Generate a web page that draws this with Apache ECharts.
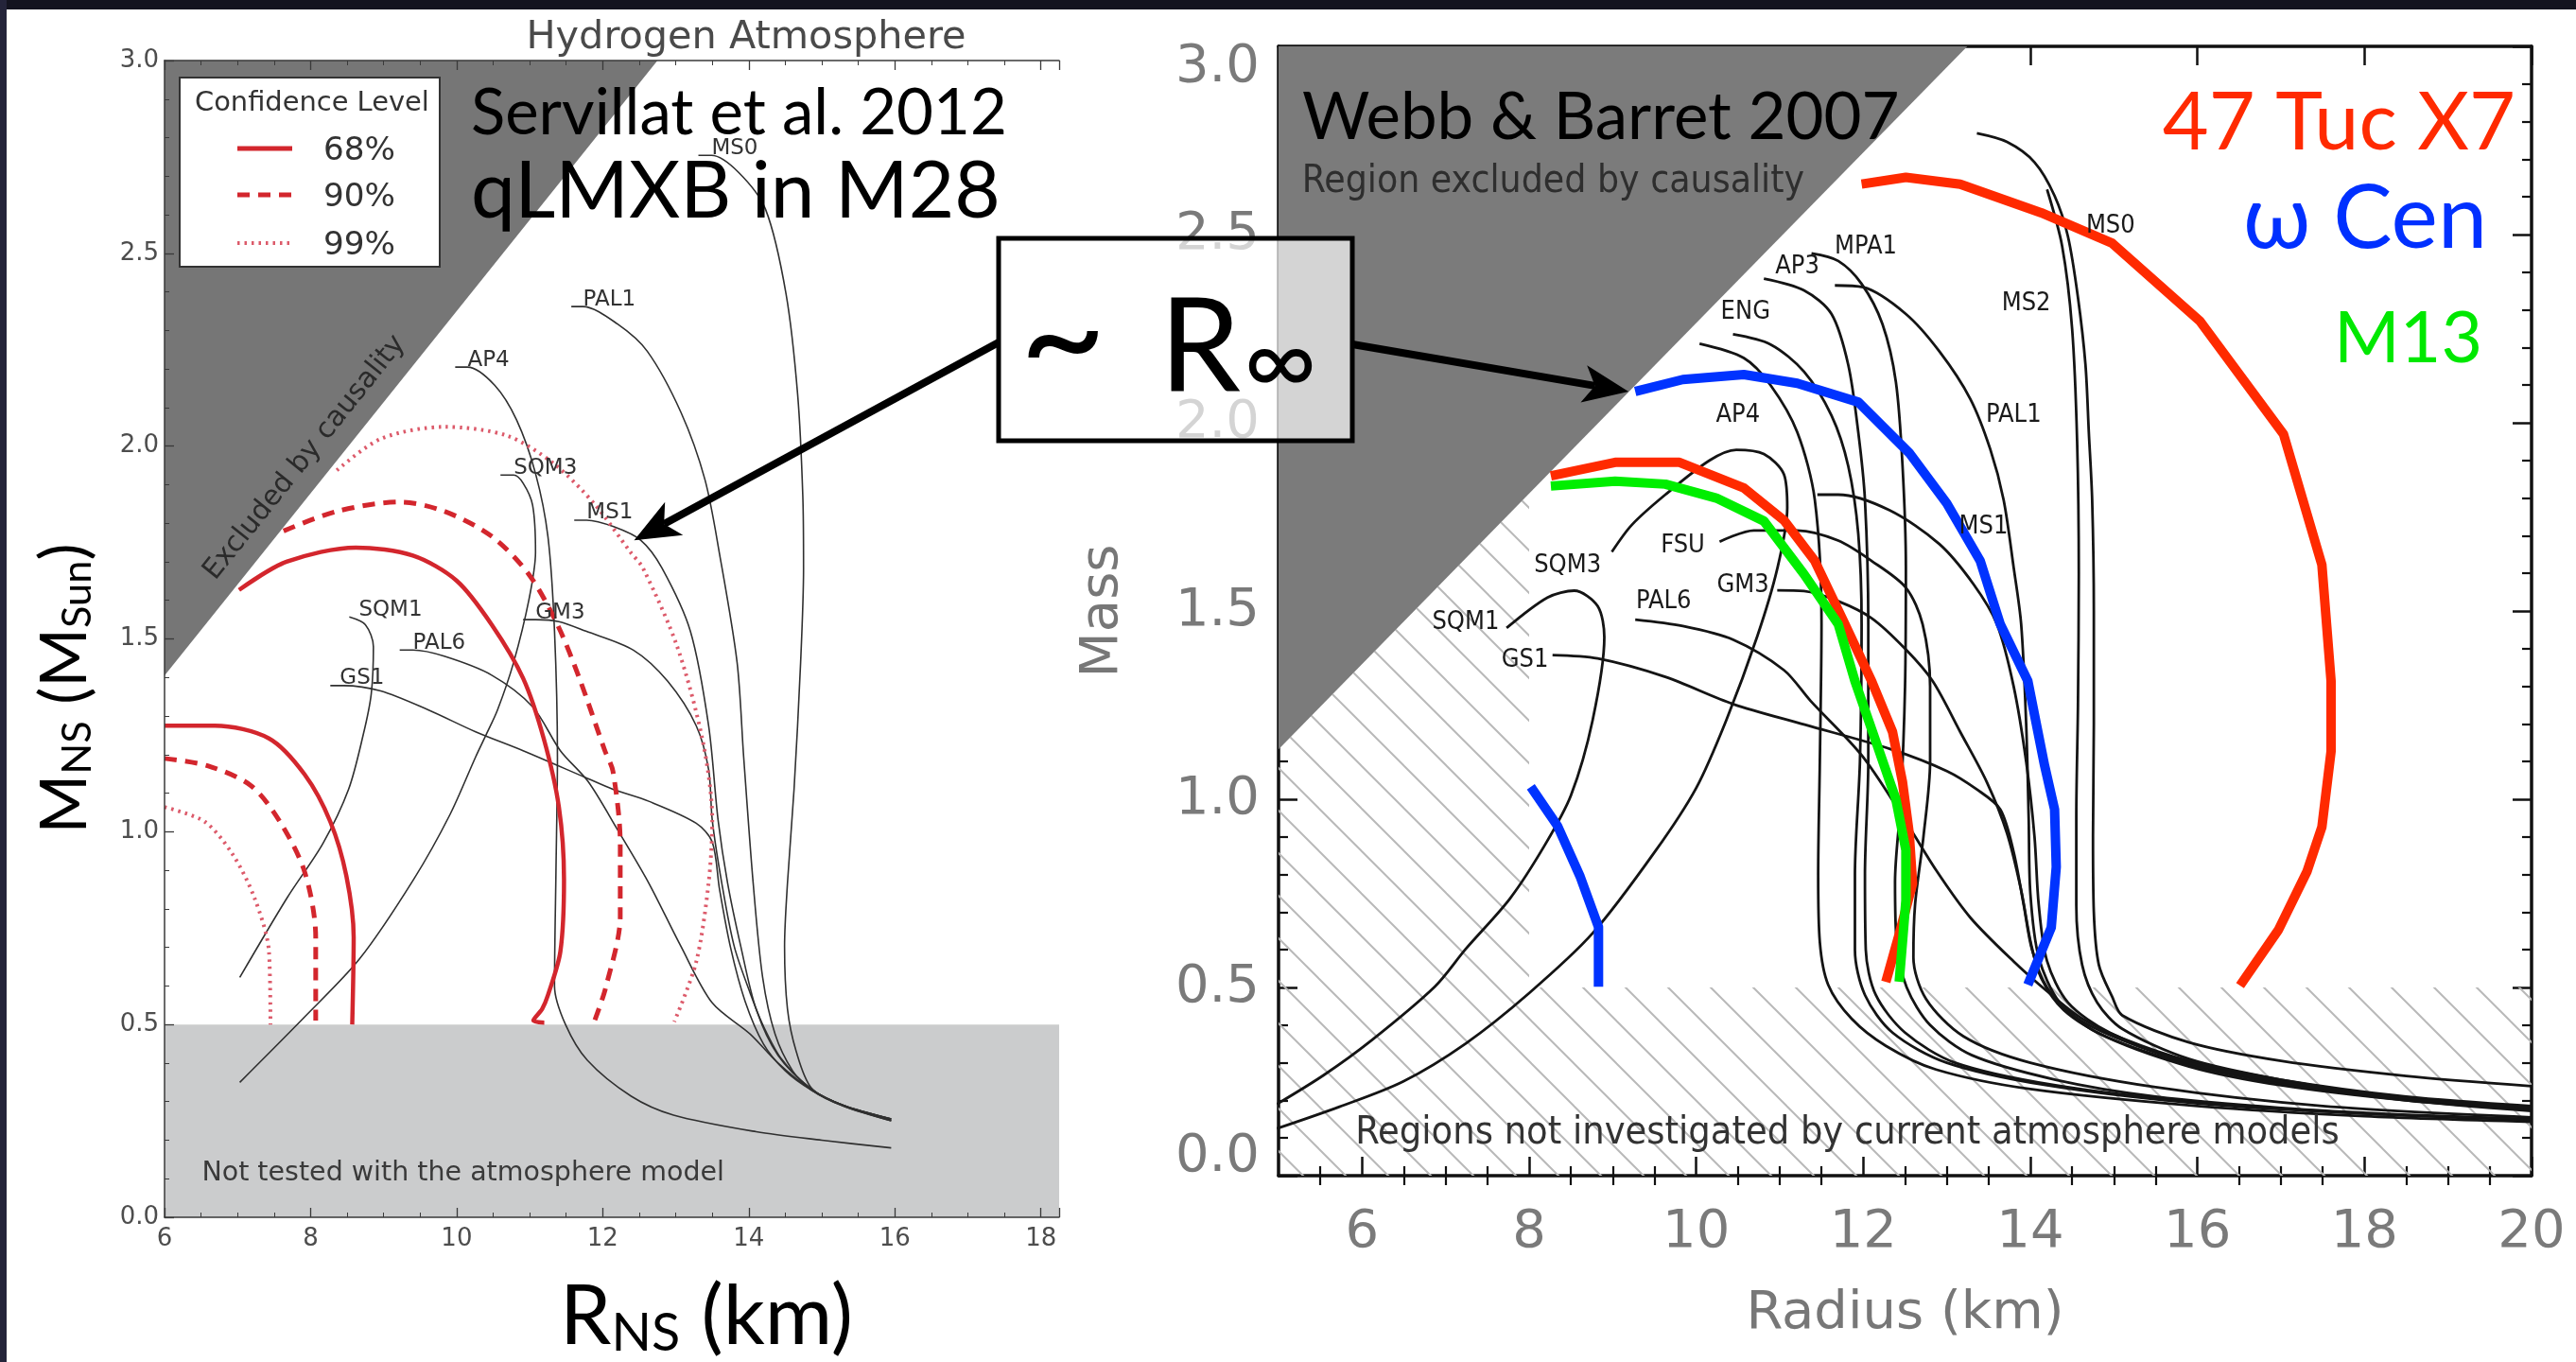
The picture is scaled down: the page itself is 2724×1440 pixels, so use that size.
<!DOCTYPE html>
<html><head><meta charset="utf-8">
<script src="https://cdn.jsdelivr.net/npm/echarts@6/dist/echarts.min.js"></script>
<style>html,body{margin:0;padding:0;background:#fff;overflow:hidden}#c{width:2724px;height:1440px}</style>
</head><body><div id="c"></div>
<script>
// ===================== DATA =====================
// ---- Left panel (Servillat et al. 2012): x = R_NS (km), y = M_NS (Msun)
const leftCausal = [[6,1.405],[6,3],[12.75,3]];
const leftBand = [[6,0],[18.25,0],[18.25,0.5],[6,0.5]];
const leftEosNames = ['MS0','PAL1','AP4','SQM3','MS1','SQM1','GM3','PAL6','GS1'];
const leftEosLabelPos = [[13.49,2.754],[11.73,2.362],[10.15,2.205],[10.78,1.925],[11.78,1.808],[8.66,1.557],[11.08,1.55],[9.4,1.471],[8.4,1.379]];
const lMS0 = [[13.31,2.754],[13.49,2.754],[13.86,2.71],[14.23,2.614],[14.51,2.395],[14.67,2.132],[14.74,1.87],[14.75,1.684],[14.71,1.439],[14.62,1.11],[14.53,0.867],[14.49,0.703],[14.53,0.54],[14.65,0.43],[14.86,0.335],[15.3,0.29],[15.95,0.25]];
const lPAL1 = [[11.57,2.362],[11.73,2.362],[12.2,2.317],[12.61,2.246],[13.07,2.088],[13.4,1.913],[13.6,1.72],[13.84,1.439],[13.93,1.194],[14.06,0.867],[14.19,0.622],[14.36,0.475],[14.6,0.38],[14.86,0.33],[15.3,0.288],[15.95,0.252]];
const lAP4 = [[9.98,2.205],[10.15,2.205],[10.52,2.158],[10.82,2.068],[11.08,1.929],[11.25,1.765],[11.34,1.52],[11.38,1.194],[11.36,0.9],[11.34,0.6],[11.49,0.5],[11.79,0.407],[12.39,0.314],[12.97,0.265],[14.1,0.222],[15.0,0.2],[15.95,0.18]];
const lSQM3 = [[10.6,1.925],[10.78,1.925],[10.91,1.904],[11.04,1.847],[11.08,1.725],[10.99,1.602],[10.78,1.439],[10.56,1.316],[10.4,1.25],[10.26,1.194],[9.91,1.045],[9.41,0.876],[8.67,0.67],[7.92,0.52],[7.03,0.35]];
const lMS1 = [[11.61,1.808],[11.78,1.808],[12.15,1.791],[12.52,1.756],[12.81,1.684],[13.2,1.52],[13.45,1.275],[13.58,1.03],[13.71,0.867],[13.89,0.703],[14.1,0.54],[14.4,0.42],[14.86,0.332],[15.3,0.288],[15.95,0.25]];
const lSQM1 = [[8.53,1.557],[8.75,1.537],[8.86,1.48],[8.83,1.357],[8.72,1.251],[8.52,1.11],[8.17,0.97],[7.68,0.829],[7.03,0.622]];
const lGM3 = [[10.91,1.55],[11.08,1.55],[11.4,1.545],[11.77,1.52],[12.42,1.471],[12.89,1.39],[13.28,1.275],[13.45,1.161],[13.5,1.03],[13.63,0.867],[13.8,0.703],[14.02,0.581],[14.19,0.5],[14.45,0.41],[14.86,0.332],[15.3,0.29],[15.95,0.255]];
const lPAL6 = [[9.22,1.471],[9.4,1.471],[9.83,1.455],[10.48,1.406],[11.04,1.324],[11.42,1.21],[11.8,1.13],[12.2,1.006],[12.63,0.867],[13.07,0.703],[13.5,0.556],[14.02,0.475],[14.4,0.4],[14.86,0.33],[15.3,0.29],[15.95,0.255]];
const lGS1 = [[8.27,1.379],[8.45,1.379],[8.96,1.365],[9.61,1.316],[10.26,1.259],[10.91,1.21],[11.77,1.14],[12.14,1.11],[12.63,1.079],[13.28,1.022],[13.5,0.973],[13.6,0.85],[13.75,0.7],[13.95,0.56],[14.2,0.45],[14.5,0.38],[14.86,0.33],[15.3,0.29],[15.95,0.255]];
const leftEos = [lMS0,lPAL1,lAP4,lSQM3,lMS1,lSQM1,lGM3,lPAL6,lGS1];
// confidence contours (68 / 90 / 99 %)
const c68a = [[7.02,1.627],[7.67,1.70],[8.62,1.737],[9.40,1.716],[10.0,1.651],[10.48,1.537],[10.91,1.398],[11.19,1.243],[11.40,1.064],[11.47,0.876],[11.42,0.689],[11.25,0.576],[11.17,0.54],[11.05,0.51],[11.2,0.505]];
const c68b = [[6.0,1.275],[6.69,1.275],[7.43,1.242],[7.92,1.148],[8.27,1.026],[8.49,0.885],[8.59,0.726],[8.57,0.50]];
const c90a = [[7.63,1.78],[8.36,1.831],[9.22,1.855],[9.83,1.831],[10.48,1.766],[10.99,1.667],[11.38,1.537],[11.68,1.398],[12.03,1.21],[12.14,1.157],[12.24,0.97],[12.24,0.78],[12.04,0.595],[11.87,0.50]];
const c90b = [[6.0,1.19],[6.59,1.171],[7.18,1.12],[7.58,1.026],[7.92,0.895],[8.07,0.726],[8.07,0.51]];
const c99a = [[8.36,1.937],[8.96,2.019],[9.83,2.05],[10.69,2.027],[11.34,1.953],[11.90,1.847],[12.38,1.725],[12.55,1.684],[13.02,1.48],[13.37,1.235],[13.5,1.03],[13.45,0.867],[13.28,0.662],[12.98,0.507]];
const c99b = [[6.0,1.064],[6.55,1.026],[6.93,0.942],[7.23,0.829],[7.43,0.689],[7.45,0.50]];
const legendLevels = ['68%','90%','99%'];

// ---- Right panel (Webb & Barret 2007): x = Radius (km), y = Mass
const rightCausal = [[5,1.1325],[5,3],[13.245,3]];
const rightHatch = [[5,0],[20,0],[20,0.5],[8,0.5],[8,1.812],[5,1.1325]];
const rMS0 = [[13.36,2.769],[13.72,2.746],[14.05,2.692],[14.29,2.603],[14.45,2.495],[14.57,2.333],[14.66,2.154],[14.7,1.975],[14.74,1.795],[14.76,1.5],[14.76,1.2],[14.75,0.9],[14.76,0.7],[14.82,0.56],[14.98,0.475],[15.1,0.426],[15.9,0.354],[17,0.305],[18.5,0.265],[20,0.238]];
const rMS2 = [[14.2,2.62],[14.38,2.47],[14.5,2.25],[14.56,1.95],[14.58,1.6],[14.57,1.25],[14.55,0.95],[14.55,0.72],[14.62,0.56],[14.8,0.46],[15.1,0.39],[15.9,0.31],[17,0.255],[18.5,0.205],[20,0.178]];
const rMPA1 = [[11.38,2.45],[11.7,2.43],[11.98,2.369],[12.23,2.262],[12.39,2.109],[12.47,1.885],[12.51,1.616],[12.5,1.3],[12.45,1.0],[12.38,0.78],[12.4,0.62],[12.52,0.5],[12.8,0.4],[13.3,0.32],[14.3,0.255],[15.5,0.21],[17,0.18],[18.5,0.162],[20,0.15]];
const rAP3 = [[10.81,2.383],[11.29,2.352],[11.62,2.289],[11.82,2.154],[11.94,1.975],[12.02,1.795],[12.06,1.465],[12.06,1.1],[12.02,0.8],[12.03,0.6],[12.15,0.48],[12.5,0.38],[13.1,0.3],[14.3,0.24],[16,0.195],[18,0.165],[20,0.148]];
const rPAL1 = [[11.66,2.365],[12.0,2.36],[12.51,2.289],[12.91,2.19],[13.28,2.064],[13.52,1.93],[13.68,1.795],[13.8,1.616],[13.89,1.465],[13.95,1.2],[13.98,0.95],[14.0,0.75],[14.1,0.58],[14.35,0.46],[14.8,0.38],[15.9,0.29],[17,0.24],[18.5,0.2],[20,0.175]];
const rENG = [[10.44,2.235],[10.89,2.208],[11.29,2.136],[11.62,2.019],[11.82,1.885],[11.94,1.705],[11.98,1.465],[11.96,1.1],[11.9,0.8],[11.9,0.6],[12.02,0.48],[12.35,0.38],[13.0,0.3],[14.2,0.24],[16,0.192],[18,0.165],[20,0.15]];
const rAP4 = [[10.04,2.21],[10.57,2.172],[10.89,2.1],[11.21,1.975],[11.42,1.795],[11.5,1.465],[11.48,1.1],[11.46,0.8],[11.48,0.62],[11.58,0.507],[11.86,0.417],[12.27,0.345],[12.87,0.282],[14,0.23],[16,0.185],[18,0.158],[20,0.143]];
const rMS1 = [[11.45,1.809],[11.7,1.809],[12.31,1.768],[12.91,1.678],[13.32,1.571],[13.6,1.465],[13.8,1.3],[13.95,1.1],[14.05,0.9],[14.1,0.72],[14.2,0.57],[14.45,0.46],[14.95,0.38],[15.9,0.3],[17,0.25],[18.5,0.205],[20,0.178]];
const rGM3 = [[10.97,1.555],[11.29,1.553],[11.7,1.526],[12.1,1.481],[12.5,1.4],[12.83,1.314],[13.16,1.179],[13.48,1.045],[13.72,0.91],[13.89,0.758],[14.01,0.614],[14.13,0.525],[14.4,0.44],[14.9,0.37],[15.9,0.295],[17,0.245],[18.5,0.2],[20,0.172]];
const rFSU = [[10.28,1.684],[10.69,1.714],[11.21,1.714],[11.7,1.687],[12.1,1.633],[12.51,1.562],[12.71,1.465],[12.8,1.3],[12.8,1.1],[12.72,0.9],[12.62,0.72],[12.6,0.58],[12.75,0.47],[13.2,0.37],[14.0,0.3],[15.5,0.235],[17.5,0.185],[20,0.155]];
const rPAL6 = [[9.27,1.477],[9.84,1.46],[10.44,1.424],[11.05,1.343],[11.37,1.261],[11.98,1.117],[12.47,0.955],[12.87,0.812],[13.28,0.686],[13.8,0.569],[14.21,0.488],[14.6,0.42],[15.1,0.365],[15.9,0.305],[17,0.255],[18.5,0.21],[20,0.185]];
const rGS1 = [[8.28,1.383],[8.82,1.374],[9.63,1.325],[10.44,1.253],[11.3,1.198],[12.33,1.133],[13.0,1.075],[13.36,1.026],[13.64,0.973],[13.8,0.86],[13.92,0.72],[14.02,0.6],[14.2,0.5],[14.55,0.42],[15.1,0.36],[15.9,0.3],[17,0.25],[18.5,0.205],[20,0.18]];
const rSQM1 = [[4.98,0.19],[5.54,0.267],[6.11,0.359],[6.87,0.502],[7.24,0.602],[7.77,0.736],[8.19,0.879],[8.5,1.01],[8.76,1.21],[8.9,1.43],[8.82,1.513],[8.54,1.554],[8.22,1.536],[7.73,1.455]];
const rSQM3 = [[4.98,0.125],[5.73,0.183],[6.49,0.25],[7.24,0.351],[8.0,0.485],[8.76,0.644],[9.51,0.862],[10.0,1.03],[10.36,1.21],[10.73,1.432],[10.97,1.612],[11.09,1.774],[11.05,1.863],[10.81,1.917],[10.48,1.928],[10.16,1.9],[9.63,1.809],[9.23,1.729],[8.99,1.657]];
const rightEos = [rMS0,rMS2,rMPA1,rAP3,rPAL1,rENG,rAP4,rMS1,rGM3,rFSU,rPAL6,rGS1,rSQM1,rSQM3];
const rightEosNames = ['MS0','MS2','MPA1','AP3','ENG','AP4','PAL1','MS1','FSU','GM3','PAL6','SQM3','SQM1','GS1'];
const rightEosLabelPos = [[14.96,2.522],[13.95,2.316],[12.03,2.468],[11.21,2.415],[10.59,2.293],[10.5,2.021],[13.8,2.019],[13.44,1.724],[9.84,1.673],[10.56,1.569],[9.61,1.524],[8.46,1.621],[7.24,1.47],[7.95,1.37]];
// hand-drawn constraints
const tucBig = [[11.98,2.634],[12.51,2.652],[13.16,2.634],[14.13,2.558],[14.98,2.477],[16.03,2.27],[16.57,2.108],[17.03,1.97],[17.49,1.623],[17.6,1.314],[17.6,1.127],[17.49,0.926],[17.31,0.807],[16.97,0.653],[16.51,0.505]];
const tucSmall = [[8.26,1.859],[9.03,1.895],[9.8,1.895],[10.57,1.827],[11.05,1.741],[11.42,1.633],[11.78,1.465],[12.1,1.314],[12.35,1.179],[12.47,1.045],[12.55,0.91],[12.59,0.776],[12.43,0.641],[12.27,0.515]];
const omegaMain = [[9.27,2.083],[9.84,2.115],[10.57,2.128],[11.21,2.105],[11.94,2.055],[12.55,1.92],[13.0,1.786],[13.4,1.633],[13.64,1.465],[13.97,1.314],[14.17,1.09],[14.29,0.973],[14.31,0.82],[14.25,0.659],[13.97,0.507]];
const omegaLeft = [[8.02,1.033],[8.34,0.929],[8.61,0.795],[8.83,0.661],[8.83,0.502]];
const m13 = [[8.26,1.832],[9.03,1.845],[9.63,1.837],[10.24,1.8],[10.81,1.739],[11.29,1.598],[11.7,1.465],[11.9,1.314],[12.18,1.135],[12.39,1.0],[12.51,0.865],[12.51,0.731],[12.43,0.515]];
// ticks
const rMajorX = [6,8,10,12,14,16,18,20];
const rMinorX = [5.5,6.5,7,7.5,8.5,9,9.5,10.5,11,11.5,12.5,13,13.5,14.5,15,15.5,16.5,17,17.5,18.5,19,19.5];
// arrow targets (data coords)
const arrowTipLeft = [12.43,1.756];
const arrowTipRight = [9.19,2.083];

// ===================== RENDER =====================
const MPL = "'DejaVu Sans', sans-serif";
const IDL = "'DejaVu Sans Condensed', 'DejaVu Sans', sans-serif";
const SL = "Lato, 'Open Sans', sans-serif";
const mctx = document.createElement('canvas').getContext('2d');
function measure(t, s, f){ mctx.font = s + 'px ' + f; return mctx.measureText(t).width; }
function fit(t, w, f){ return 100 * w / measure(t, 100, f); }
function baseOff(s, f){ mctx.font = s + 'px ' + f; mctx.textBaseline = 'middle'; const m = mctx.measureText('H'); mctx.textBaseline = 'alphabetic'; return m.actualBoundingBoxDescent; }

const chart = echarts.init(document.getElementById('c'), null, {width:2724, height:1440});

// hatch pattern
const pc = document.createElement('canvas'); pc.width = 45; pc.height = 45;
const pg = pc.getContext('2d'); pg.strokeStyle = '#b9b9b9'; pg.lineWidth = 2;
for (const k of [-45,0,45]) { pg.beginPath(); pg.moveTo(k-3,-3); pg.lineTo(k+48,48); pg.stroke(); }

function poly(pts, xi, yi, style, z){
  return {type:'custom', xAxisIndex:xi, yAxisIndex:yi, z, silent:true, clip:true, animation:false, data:pts,
    renderItem(params, api){ if (params.dataIndex !== 0) return null;
      return {type:'polygon', shape:{points: pts.map(p => api.coord(p))}, style}; }};
}
function line(pts, xi, yi, color, width, type, smooth, z){
  return {type:'line', xAxisIndex:xi, yAxisIndex:yi, data:pts, symbol:'none', showSymbol:false, smooth, z, silent:true, animation:false,
    lineStyle:{color, width, type, cap:'butt', join:'round'}};
}
function texts(items, xi, yi, z){
  return {type:'custom', xAxisIndex:xi, yAxisIndex:yi, z, silent:true, clip:false, animation:false, data: items.map(i => i.pos),
    renderItem(params, api){ const it = items[params.dataIndex]; const c = api.coord(it.pos); let rot = 0;
      if (it.along){ const a = api.coord(it.along[0]), b = api.coord(it.along[1]); rot = Math.atan2(-(b[1]-a[1]), b[0]-a[0]); }
      return {type:'text', x:c[0]+(it.dx||0), y:c[1]+(it.dy||0), rotation:rot,
        style:{text:it.text, font:it.font, fill:it.color, align:it.align, verticalAlign:it.valign, textAlign:it.align, textVerticalAlign:it.valign}}; }};
}

const series = [];
// left panel
series.push(poly(leftBand, 0, 0, {fill:'#cbcccd'}, 1));
series.push(poly(leftCausal, 0, 0, {fill:'#767676'}, 1));
leftEos.forEach(p => series.push(line(p, 0, 0, '#303030', 1.6, 'solid', 0.3, 3)));
series.push(line(c68a, 0, 0, '#d3262d', 4.5, 'solid', 0.3, 4));
series.push(line(c68b, 0, 0, '#d3262d', 4.5, 'solid', 0.3, 4));
series.push(line(c90a, 0, 0, '#d3262d', 5, [13,9], 0.3, 4));
series.push(line(c90b, 0, 0, '#d3262d', 5, [13,9], 0.3, 4));
series.push(line(c99a, 0, 0, '#dc5a6a', 4, [2.5,5], 0.3, 4));
series.push(line(c99b, 0, 0, '#dc5a6a', 4, [2.5,5], 0.3, 4));
const leftLabelItems = leftEosNames.map((n,i) => ({text:n, pos:leftEosLabelPos[i], font:'23px '+MPL, color:'#333', align:'left', valign:'bottom', dy:4}));
const ntSize = fit('Not tested with the atmosphere model', 553, MPL);
leftLabelItems.push({text:'Not tested with the atmosphere model', pos:[6.51,0.115], font:ntSize.toFixed(1)+'px '+MPL, color:'#3a3a3a', align:'left', valign:'middle'});
const exSize = fit('Excluded by causality', 322, MPL);
leftLabelItems.push({text:'Excluded by causality', pos:[7.92,1.97], along:[[6,1.405],[12.75,3]], font:exSize.toFixed(1)+'px '+MPL, color:'#2a2a2a', align:'center', valign:'middle'});
series.push(texts(leftLabelItems, 0, 0, 6));

// right panel
series.push(poly(rightHatch, 2, 1, {fill:{image:pc, repeat:'repeat'}}, 1));
series.push(poly(rightCausal, 2, 1, {fill:'#7b7b7b'}, 1));
rightEos.forEach(p => series.push(line(p, 2, 1, '#141414', 2.8, 'solid', 0.3, 3)));
series.push(line(tucBig, 2, 1, '#ff2a00', 10, 'solid', false, 5));
series.push(line(tucSmall, 2, 1, '#ff2a00', 10, 'solid', false, 5));
series.push(line(m13, 2, 1, '#00ee00', 10, 'solid', false, 6));
series.push(line(omegaMain, 2, 1, '#0033ff', 10, 'solid', false, 6));
series.push(line(omegaLeft, 2, 1, '#0033ff', 10, 'solid', false, 6));
const rightLabelItems = rightEosNames.map((n,i) => ({text:n, pos:rightEosLabelPos[i], font:'27px '+IDL, color:'#1a1a1a', align:'center', valign:'middle'}));
const reSize = fit('Region excluded by causality', 531, IDL);
rightLabelItems.push({text:'Region excluded by causality', pos:[5.28,2.64], font:reSize.toFixed(1)+'px '+IDL, color:'#2e2e2e', align:'left', valign:'middle'});
const rnSize = fit('Regions not investigated by current atmosphere models', 1040, IDL);
rightLabelItems.push({text:'Regions not investigated by current atmosphere models', pos:[5.92,0.113], font:rnSize.toFixed(1)+'px '+IDL, color:'#333', align:'left', valign:'middle'});
series.push(texts(rightLabelItems, 2, 1, 7));

const axL = {color:'#3a3a3a', width:1.5};
const lLab = {fontSize:26, color:'#4d4d4d', fontFamily:MPL};
const rAx = {color:'#111', width:3.5};
const rLab = {fontSize:56, color:'#7a7a7a', fontFamily:MPL};
const off = {show:false};
const xAxis = [
  {gridIndex:0, type:'value', min:6, max:18.25, interval:2, position:'bottom', z:20,
   axisLine:{show:true, onZero:false, lineStyle:axL}, axisTick:{show:true, inside:true, length:10, lineStyle:{color:'#3a3a3a', width:1.3}},
   minorTick:{show:true, splitNumber:4, length:5, lineStyle:{color:'#3a3a3a', width:1}}, splitLine:off, minorSplitLine:off,
   axisLabel:Object.assign({margin:10, formatter:v => (Math.abs(v-Math.round(v))<1e-6 && Math.round(v)%2===0) ? String(Math.round(v)) : ''}, lLab)},
  {gridIndex:0, type:'value', min:6, max:18.25, interval:2, position:'top', z:20,
   axisLine:{show:true, onZero:false, lineStyle:axL}, axisTick:{show:true, inside:true, length:10, lineStyle:{color:'#3a3a3a', width:1.3}},
   minorTick:{show:true, splitNumber:4, length:5, lineStyle:{color:'#3a3a3a', width:1}}, splitLine:off, axisLabel:off},
  {gridIndex:1, type:'value', min:5, max:20, position:'bottom', z:0,
   axisLine:{show:true, onZero:false, lineStyle:rAx}, axisTick:{show:true, inside:true, length:20, customValues:rMajorX, lineStyle:{color:'#111', width:2.5}},
   splitLine:off, axisLabel:Object.assign({customValues:rMajorX, margin:32}, rLab),
   name:'Radius (km)', nameLocation:'middle', nameGap:118, nameTextStyle:{fontSize:56, color:'#777', fontFamily:MPL}},
  {gridIndex:1, type:'value', min:5, max:20, position:'bottom', z:0,
   axisLine:off, axisTick:{show:true, inside:true, length:10, customValues:rMinorX, lineStyle:{color:'#111', width:2.2}}, splitLine:off, axisLabel:off},
  {gridIndex:1, type:'value', min:5, max:20, position:'top', z:0,
   axisLine:{show:true, onZero:false, lineStyle:rAx}, axisTick:{show:true, inside:true, length:20, customValues:rMajorX, lineStyle:{color:'#111', width:2.5}}, splitLine:off, axisLabel:off},
  {gridIndex:1, type:'value', min:5, max:20, position:'top', z:0,
   axisLine:off, axisTick:{show:true, inside:true, length:10, customValues:rMinorX, lineStyle:{color:'#111', width:2.2}}, splitLine:off, axisLabel:off}
];
const yAxis = [
  {gridIndex:0, type:'value', min:0, max:3, interval:0.5, position:'left', z:20,
   axisLine:{show:true, onZero:false, lineStyle:axL}, axisTick:{show:true, inside:true, length:10, lineStyle:{color:'#3a3a3a', width:1.3}},
   minorTick:{show:true, splitNumber:5, length:5, lineStyle:{color:'#3a3a3a', width:1}}, splitLine:off,
   axisLabel:Object.assign({margin:6, formatter:v => v.toFixed(1)}, lLab)},
  {gridIndex:1, type:'value', min:0, max:3, interval:0.5, position:'left', z:0,
   axisLine:{show:true, onZero:false, lineStyle:rAx}, axisTick:{show:true, inside:true, length:20, lineStyle:{color:'#111', width:2.5}},
   minorTick:{show:true, splitNumber:5, length:10, lineStyle:{color:'#111', width:2.2}}, splitLine:off,
   axisLabel:{margin:20, formatter:v => v === 0 ? '{lo|0.0}' : (v === 3 ? '{hi|3.0}' : '{n|' + v.toFixed(1) + '}'),
     rich:{n:rLab, lo:Object.assign({padding:[0,0,40,0]}, rLab), hi:Object.assign({padding:[44,0,0,0]}, rLab)}},
   name:'Mass', nameLocation:'middle', nameGap:158, nameRotate:90, nameTextStyle:{fontSize:56, color:'#777', fontFamily:MPL}},
  {gridIndex:1, type:'value', min:0, max:3, interval:0.5, position:'right', z:0,
   axisLine:{show:true, onZero:false, lineStyle:rAx}, axisTick:{show:true, inside:true, length:20, lineStyle:{color:'#111', width:2.5}},
   minorTick:{show:true, splitNumber:5, length:10, lineStyle:{color:'#111', width:2.2}}, splitLine:off, axisLabel:off}
];

chart.setOption({
  animation:false, backgroundColor:'#ffffff',
  grid:[{left:174, top:64, width:946, height:1223, outerBoundsMode:'none', containLabel:false},
        {left:1352, top:49, width:1325, height:1194, outerBoundsMode:'none', containLabel:false}],
  xAxis, yAxis, series
});

// ---------- overlays in pixel space ----------
function tb(text, x, baseline, size, fam, color, align, extra){
  const o = baseOff(size, fam);
  return Object.assign({type:'text', x, y: baseline - o, z:100, silent:true,
    style:{text, font: size.toFixed(1)+'px '+fam, fill:color, align:align||'left', verticalAlign:'middle', textAlign:align||'left', textVerticalAlign:'middle'}}, extra||{});
}
function seq(parts, x0, baseline, fam, color, total){
  let W = 0; parts.forEach(p => W += measure(p.t, p.s, fam));
  const k = total / W; let x = x0; const els = [];
  parts.forEach(p => { const s = p.s*k; els.push(tb(p.t, x, baseline + (p.dy||0)*k, s, fam, color, 'left')); x += measure(p.t, s, fam); });
  return els;
}
function arrow(x1, y1, x2, y2){
  const dx = x2-x1, dy = y2-y1, L = Math.hypot(dx,dy), ux = dx/L, uy = dy/L, px = -uy, py = ux;
  const hl = 48, hw = 20, bx = x2-ux*hl, by = y2-uy*hl;
  return [
    {type:'line', z:95, silent:true, shape:{x1, y1, x2: bx+ux*12, y2: by+uy*12}, style:{stroke:'#000', lineWidth:8}},
    {type:'polygon', z:96, silent:true, shape:{points:[[x2,y2],[bx+px*hw,by+py*hw],[bx+ux*12,by+uy*12],[bx-px*hw,by-py*hw]]}, style:{fill:'#000'}}
  ];
}
const tipL = chart.convertToPixel({xAxisIndex:0, yAxisIndex:0}, arrowTipLeft);
const tipR = chart.convertToPixel({xAxisIndex:2, yAxisIndex:1}, arrowTipRight);

const g = [];
g.push({type:'rect', z:110, silent:true, shape:{x:0, y:0, width:2724, height:10}, style:{fill:'#13131f'}});
g.push({type:'rect', z:110, silent:true, shape:{x:0, y:0, width:7, height:1440}, style:{fill:'#24243a'}});
// left title
g.push(tb('Hydrogen Atmosphere', 789, 51, fit('Hydrogen Atmosphere', 465, MPL), MPL, '#4a4a4a', 'center'));
// legend box
g.push({type:'rect', z:60, silent:true, shape:{x:190, y:82, width:275, height:200}, style:{fill:'#fff', stroke:'#333', lineWidth:2}});
g.push(Object.assign(tb('Confidence Level', 206, 117, fit('Confidence Level', 248, MPL), MPL, '#333', 'left'), {z:61}));
const legY = [157, 206, 257];
const legStyle = [{stroke:'#d3262d', lineWidth:5}, {stroke:'#d3262d', lineWidth:5, lineDash:[13,9]}, {stroke:'#dc5a6a', lineWidth:4, lineDash:[2.5,5]}];
const pctSize = fit('68%', 76, MPL);
legendLevels.forEach((t,i) => {
  g.push({type:'line', z:61, silent:true, shape:{x1:251, y1:legY[i], x2:309, y2:legY[i]}, style:legStyle[i]});
  g.push(Object.assign(tb(t, 342, legY[i] + 0.36*pctSize, pctSize, MPL, '#333', 'left'), {z:61}));
});
// slide texts
g.push(tb('Servillat et al. 2012', 498, 142, fit('Servillat et al. 2012', 567, SL), SL, '#000'));
g.push(tb('qLMXB in M28', 498, 230, fit('qLMXB in M28', 560, SL), SL, '#000'));
g.push(tb('Webb & Barret 2007', 1377, 147, fit('Webb & Barret 2007', 632, SL), SL, '#000'));
g.push(tb('47 Tuc X7', 2660, 158, fit('47 Tuc X7', 373, SL), SL, '#ff2a00', 'right'));
g.push(tb('ω Cen', 2630, 262, fit('ω Cen', 258, SL), SL, '#0030ff', 'right'));
g.push(tb('M13', 2625, 383, fit('M13', 157, SL), SL, '#00e800', 'right'));
// R_inf box
g.push({type:'rect', z:90, silent:true, shape:{x:1056, y:252, width:374, height:214}, style:{fill:'rgba(255,255,255,0.68)', stroke:'#000', lineWidth:5}});
const tildeSize = fit('~', 92, SL);
g.push({type:'text', x:1078, y:360, z:97, silent:true, style:{text:'~', font:tildeSize.toFixed(1)+'px '+SL, fill:'#000', align:'left', verticalAlign:'middle', textAlign:'left', textVerticalAlign:'middle'}});
g.push(Object.assign(tb('R', 1226, 413, fit('R', 86, SL), SL, '#000'), {z:97}));
g.push(Object.assign(tb('∞', 1315, 418, fit('∞', 78, SL), SL, '#000'), {z:97}));
arrow(1056, 362, tipL[0], tipL[1]).forEach(e => g.push(e));
arrow(1430, 364, tipR[0], tipR[1]).forEach(e => g.push(e));
// left axis titles (slide text)
seq([{t:'R', s:78},{t:'NS', s:50, dy:6},{t:' (km)', s:78}], 592, 1421, SL, '#000', 310).forEach(e => g.push(e));
const mParts = [{t:'M', s:78},{t:'NS', s:50, dy:6},{t:' (M', s:78},{t:'Sun', s:50, dy:6},{t:')', s:78}];
const mEls = seq(mParts, -307/2, 0, SL, '#000', 307);
g.push({type:'group', x:91, y:728, rotation:Math.PI/2, z:100, children:mEls});

chart.setOption({graphic: g});
</script></body></html>
